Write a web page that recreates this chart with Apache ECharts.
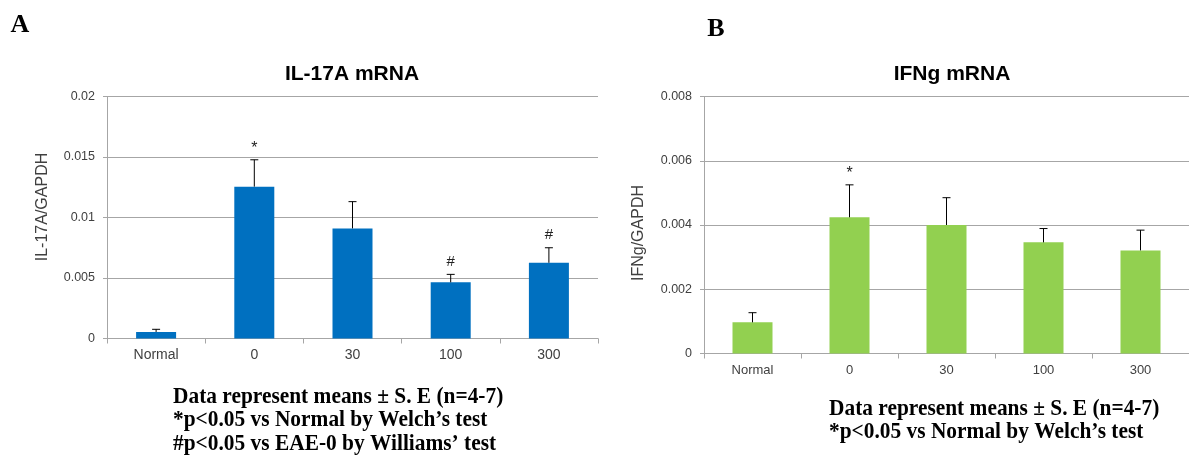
<!DOCTYPE html>
<html>
<head>
<meta charset="utf-8">
<script src="https://cdn.jsdelivr.net/npm/echarts@6/dist/echarts.min.js"></script>
<style>
  html, body { margin: 0; padding: 0; background: #fff; }
  #main { width: 1189px; height: 455px; }
</style>
</head>
<body>
<div id="main"></div>
<script>
// doses
const categories = ['Normal', '0', '30', '100', '300'];

// IL-17A / GAPDH
const il17Mean = [0.00054, 0.01255, 0.0091, 0.00464, 0.00626];
const il17Se = [0.00022, 0.00222, 0.00221, 0.00066, 0.00124];
const il17Marks = ['', '*', '', '#', '#'];

// IFNg / GAPDH
const ifngMean = [0.00097, 0.00424, 0.0040, 0.00346, 0.00321];
const ifngSe = [0.0003, 0.00101, 0.00085, 0.00043, 0.00063];
const ifngMarks = ['', '*', '', '', ''];

const noteA = [
    'Data represent means \u00b1 S. E (n=4-7)',
    '*p<0.05 vs Normal by Welch\u2019s test',
    '#p<0.05 vs EAE-0 by Williams\u2019 test'
];
const noteB = [
    'Data represent means \u00b1 S. E (n=4-7)',
    '*p<0.05 vs Normal by Welch\u2019s test'
];

const axisGrey = '#a6a6a6';
const labelColor = '#404040';
const sans = '"Liberation Sans", Arial, sans-serif';
const serif = '"Liberation Serif", "Times New Roman", serif';

// error bar: [index, mean, mean+se]
function errData(mean, se) {
    return mean.map((m, i) => [i, m, m + se[i]]);
}

// upper error bar with cap, and the significance mark above it
function makeErr(marks) {
    return function (params, api) {
        const i = api.value(0);
        const base = api.coord([i, api.value(1)]);
        const top = api.coord([i, api.value(2)]);
        const cap = 4;
        const children = [
            { type: 'line', shape: { x1: top[0], y1: base[1], x2: top[0], y2: top[1] },
              style: { stroke: '#000', lineWidth: 1 } },
            { type: 'line', shape: { x1: top[0] - cap, y1: top[1], x2: top[0] + cap, y2: top[1] },
              style: { stroke: '#000', lineWidth: 1 } }
        ];
        const m = marks[params.dataIndex];
        if (m) {
            children.push({
                type: 'text',
                x: top[0], y: top[1] - (m === '*' ? 11 : 13),
                style: { text: m, fill: '#222', font: (m === '*' ? '16px ' : '15px ') + sans,
                         align: 'center', verticalAlign: 'middle' }
            });
        }
        return { type: 'group', children: children };
    };
}

function xAxis(gridIndex, fontSize) {
    return {
        type: 'category', gridIndex: gridIndex, data: categories,
        axisLine: { lineStyle: { color: axisGrey } },
        axisTick: { show: true, length: 5, lineStyle: { color: axisGrey } },
        axisLabel: { color: labelColor, fontSize: fontSize, fontFamily: sans, margin: 10 }
    };
}

function yAxis(gridIndex, max, interval) {
    return {
        type: 'value', gridIndex: gridIndex, min: 0, max: max, interval: interval,
        axisLine: { show: true, lineStyle: { color: axisGrey } },
        axisTick: { show: true, length: 4, lineStyle: { color: axisGrey } },
        axisLabel: { color: labelColor, fontSize: 12.5, fontFamily: sans, margin: 12 },
        splitLine: { show: true, lineStyle: { color: axisGrey, width: 1 } }
    };
}

function noteText(lines, x, baseline) {
    return lines.map((t, k) => ({
        type: 'text', x: x, y: baseline + k * 23.5 - 8, scaleX: 0.93,
        style: { text: t, fill: '#000', font: 'bold 23px ' + serif, verticalAlign: 'middle' }
    }));
}

function plainText(t, x, y, font, rotate) {
    return {
        type: 'text', x: x, y: y, rotation: rotate ? Math.PI / 2 : 0,
        style: { text: t, fill: '#000', font: font, align: 'center', verticalAlign: 'middle' }
    };
}

let chart = echarts.init(document.getElementById('main'), null, { renderer: 'canvas' });

let option = {
    animation: false,
    backgroundColor: '#fff',
    grid: [
        { left: 107, top: 96.5, width: 491, height: 242 },
        { left: 704, top: 96.5, width: 491, height: 257 }
    ],
    xAxis: [xAxis(0, 14), xAxis(1, 13)],
    yAxis: [yAxis(0, 0.02, 0.005), yAxis(1, 0.008, 0.002)],
    graphic: [
        plainText('A', 20, 25, 'bold 26px ' + serif),
        plainText('B', 716, 29, 'bold 26px ' + serif),
        plainText('IL-17A mRNA', 352, 74, 'bold 21px ' + sans),
        plainText('IFNg mRNA', 952, 74, 'bold 21px ' + sans),
        {
            type: 'text', x: 42.5, y: 207, rotation: Math.PI / 2,
            style: { text: 'IL-17A/GAPDH', fill: labelColor, font: '16px ' + sans, align: 'center', verticalAlign: 'middle' }
        },
        {
            type: 'text', x: 639, y: 233, rotation: Math.PI / 2,
            style: { text: 'IFNg/GAPDH', fill: labelColor, font: '16px ' + sans, align: 'center', verticalAlign: 'middle' }
        }
    ].concat(noteText(noteA, 173, 405), noteText(noteB, 829, 417)),
    series: [
        { type: 'bar', xAxisIndex: 0, yAxisIndex: 0, data: il17Mean, barWidth: 40,
          itemStyle: { color: '#0070c0' } },
        { type: 'custom', xAxisIndex: 0, yAxisIndex: 0, renderItem: makeErr(il17Marks),
          data: errData(il17Mean, il17Se), z: 5 },
        { type: 'bar', xAxisIndex: 1, yAxisIndex: 1, data: ifngMean, barWidth: 40,
          itemStyle: { color: '#92d050' } },
        { type: 'custom', xAxisIndex: 1, yAxisIndex: 1, renderItem: makeErr(ifngMarks),
          data: errData(ifngMean, ifngSe), z: 5 }
    ]
};

chart.setOption(option);
</script>
</body>
</html>
